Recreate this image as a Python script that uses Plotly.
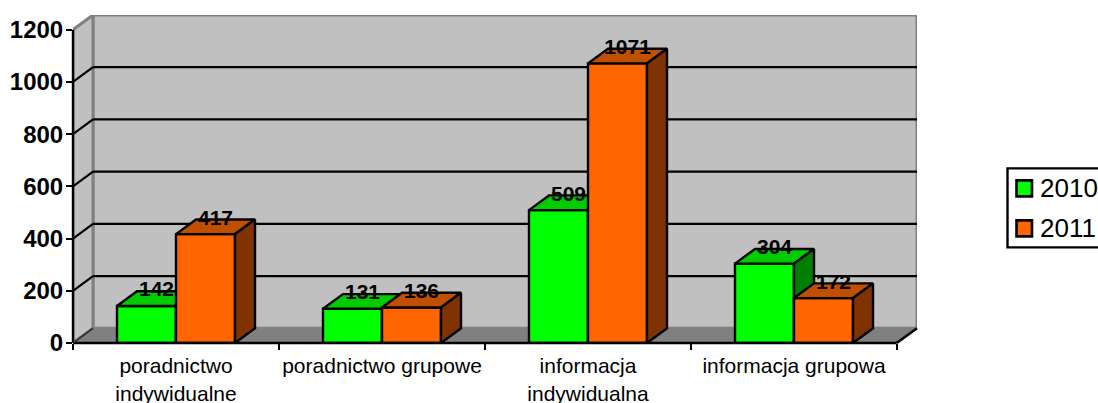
import plotly.graph_objects as go

categories = ["poradnictwo<br>indywidualne", "poradnictwo grupowe", "informacja<br>indywidualna", "informacja grupowa"]
cat_pos = [0, 1, 2, 3]
series_names = ["2010", "2011"]
values_2010 = [142, 131, 509, 304]
values_2011 = [417, 136, 1071, 172]
y_ticks = [0, 200, 400, 600, 800, 1000, 1200]
boundaries = [-0.5, 0.5, 1.5, 2.5, 3.5]

W, H = 1098, 403
PL, PR, PT, PB = 73, 917, 14.6, 342.7   # plot area in pixels, depth included
DEPTH_X, DEPTH_Y = 20, 14.7             # pixel depth of the 3D box
GROUP_PX = 206
UNIT = (PB - PT - DEPTH_Y) / 1200
BAR_W = 59 / GROUP_PX
DX = DEPTH_X / GROUP_PX
DY = DEPTH_Y / UNIT
FONT = "Liberation Sans, Arial, sans-serif"
LW = 2.4


def px(X):
    return (X - PL) / (PR - PL)


def py(Y):
    return 1 - (Y - PT) / (PB - PT)


def poly(points):
    xs, ys = [], []
    for p in points:
        for a, b in p + [p[0]]:
            xs.append(a)
            ys.append(b)
        xs.append(None)
        ys.append(None)
    return xs, ys


def faces(vals, left_off):
    top, side = [], []
    for c, v in zip(cat_pos, vals):
        l = c + left_off
        r = l + BAR_W
        top.append([(l, v), (r, v), (r + DX, v + DY), (l + DX, v + DY)])
        side.append([(r, 0), (r + DX, DY), (r + DX, v + DY), (r, v)])
    return top, side


def fill_trace(polys, fill, line, xa="x", ya="y", lw=LW):
    xs, ys = poly(polys)
    return go.Scatter(x=xs, y=ys, xaxis=xa, yaxis=ya, mode="lines", fill="toself", fillcolor=fill,
                      line=dict(color=line, width=lw), hoverinfo="skip", showlegend=False, cliponaxis=False)


fig = go.Figure()
x0, x1 = boundaries[0], boundaries[-1]
top_y = y_ticks[-1]

# walls and floor: base subplot
fig.add_trace(fill_trace([[(x0 + DX, DY), (x1 + DX, DY), (x1 + DX, top_y + DY), (x0 + DX, top_y + DY)]], "#C0C0C0", "#808080", lw=3))
fig.add_trace(fill_trace([[(x0, 0), (x0 + DX, DY), (x0 + DX, top_y + DY), (x0, top_y)]], "#C0C0C0", "#808080", lw=3))
fig.add_trace(fill_trace([[(x0, 0), (x1, 0), (x1 + DX, DY), (x0 + DX, DY)]], "#808080", "#808080"))

gx, gy = [], []
for t in y_ticks[1:-1]:
    gx += [x0 + DX, x1 + DX, None]
    gy += [t + DY, t + DY, None]
fig.add_trace(go.Scatter(x=gx, y=gy, mode="lines", line=dict(color="black", width=2.2), hoverinfo="skip",
                         showlegend=False, cliponaxis=False))

off_a, off_b = -BAR_W, 0.0

# 2010 series
fig.add_trace(go.Bar(x=cat_pos, y=values_2010, width=BAR_W, offset=off_a, name=series_names[0], showlegend=False,
                     xaxis="x2", yaxis="y2",
                     marker=dict(color="#00FF00", line=dict(color="black", width=LW)), cliponaxis=False))
t, s = faces(values_2010, off_a)
fig.add_trace(fill_trace(t, "#00CC00", "black", "x2", "y2"))
fig.add_trace(fill_trace(s, "#008000", "black", "x2", "y2"))

# 2011 series, above the 2010 faces
fig.add_trace(go.Bar(x=cat_pos, y=values_2011, width=BAR_W, offset=off_b, name=series_names[1], showlegend=False,
                     xaxis="x3", yaxis="y3",
                     marker=dict(color="#FF6600", line=dict(color="black", width=LW)), cliponaxis=False))
t, s = faces(values_2011, off_b)
fig.add_trace(fill_trace(t, "#C05000", "black", "x3", "y3"))
fig.add_trace(fill_trace(s, "#803300", "black", "x3", "y3"))

# value labels
lx, ly, lt = [], [], []
for vals, off in ((values_2010, off_a), (values_2011, off_b)):
    for c, v in zip(cat_pos, vals):
        lx.append(c + off + BAR_W / 2 + DX / 2)
        ly.append(v + DY)
        lt.append(str(v))
fig.add_trace(go.Scatter(x=lx, y=ly, text=lt, mode="text", textposition="middle center", xaxis="x3", yaxis="y3",
                         textfont=dict(family=FONT, size=21, color="black", weight="bold"),
                         hoverinfo="skip", showlegend=False, cliponaxis=False))

# axis frame (stops at the front plane, so it cannot be the axes' own line)
front_r = px(896.5)
front_t = 1200 / (top_y + DY)
depth_y = DY / (top_y + DY)
black = dict(color="black", width=2.4)
shapes = [
    dict(type="line", xref="paper", yref="paper", x0=0, x1=front_r, y0=0, y1=0, line=black),
    dict(type="line", xref="paper", yref="paper", x0=0, x1=0, y0=0, y1=front_t, line=black),
    dict(type="line", xref="paper", yref="paper", x0=front_r, x1=1, y0=0, y1=depth_y, line=black),
    dict(type="line", xref="paper", yref="paper", x0=0, x1=px(93), y0=0, y1=depth_y, line=dict(color="#333333", width=2)),
]
# gridline stubs on the left wall
for t in y_ticks[1:-1]:
    yf = t / (top_y + DY)
    shapes.append(dict(type="line", xref="paper", yref="paper", x0=0, x1=px(93), y0=yf, y1=yf + depth_y,
                       line=dict(color="black", width=2.2)))

# legend
legend_cols = ["#00FF00", "#FF6600"]
legend_rows = [188, 228]
shapes.append(dict(type="rect", xref="paper", yref="paper", x0=px(1007.5), x1=px(1115), y0=py(168), y1=py(247),
                   line=dict(color="black", width=2.4), fillcolor="white"))
annotations = []
for name, col, r in zip(series_names, legend_cols, legend_rows):
    shapes.append(dict(type="rect", xref="paper", yref="paper", x0=px(1016.5), x1=px(1032), y0=py(r - 8), y1=py(r + 8),
                       line=dict(color="black", width=2.6), fillcolor=col))
    annotations.append(dict(text=name, xref="paper", yref="paper", x=px(1037.5), y=py(r), xanchor="left", yanchor="middle",
                            showarrow=False, font=dict(family=FONT, size=26, color="black")))

full_x = [x0, x1 + DX]
full_y = [0, top_y + DY]
hidden = dict(showgrid=False, zeroline=False, showline=False)
fig.update_layout(
    width=W, height=H, margin=dict(l=PL, r=W - PR, t=PT, b=H - PB, pad=0, autoexpand=False),
    paper_bgcolor="white", plot_bgcolor="rgba(0,0,0,0)",
    barmode="overlay", showlegend=False,
    font=dict(family=FONT, color="black"),
    xaxis=dict(range=full_x, tickmode="array", tickvals=boundaries, ticktext=[""] * len(boundaries),
               ticks="outside", ticklen=6, tickwidth=2.2, tickcolor="black", **hidden),
    yaxis=dict(range=full_y, tickmode="array", tickvals=y_ticks, ticks="outside", ticklen=6, tickwidth=2.2,
               tickcolor="black", ticklabelstandoff=-2,
               tickfont=dict(family=FONT, size=24, color="black", weight="bold"), **hidden),
    xaxis2=dict(range=full_x, overlaying="x", anchor="y2", side="bottom", tickmode="array", tickvals=cat_pos,
                ticktext=categories, ticks="outside", ticklen=4, tickcolor="rgba(0,0,0,0)", tickangle=0,
                tickfont=dict(family=FONT, size=21, color="black"), **hidden),
    yaxis2=dict(range=full_y, overlaying="y", anchor="x2", showticklabels=False, ticks="", **hidden),
    xaxis3=dict(range=full_x, overlaying="x", anchor="y3", showticklabels=False, ticks="", **hidden),
    yaxis3=dict(range=full_y, overlaying="y", anchor="x3", showticklabels=False, ticks="", **hidden),
    shapes=shapes,
    annotations=annotations,
)

fig.write_html("out.html", config=dict(displayModeBar=False),
               post_script="document.body.style.margin='0';document.body.style.overflow='hidden';")
